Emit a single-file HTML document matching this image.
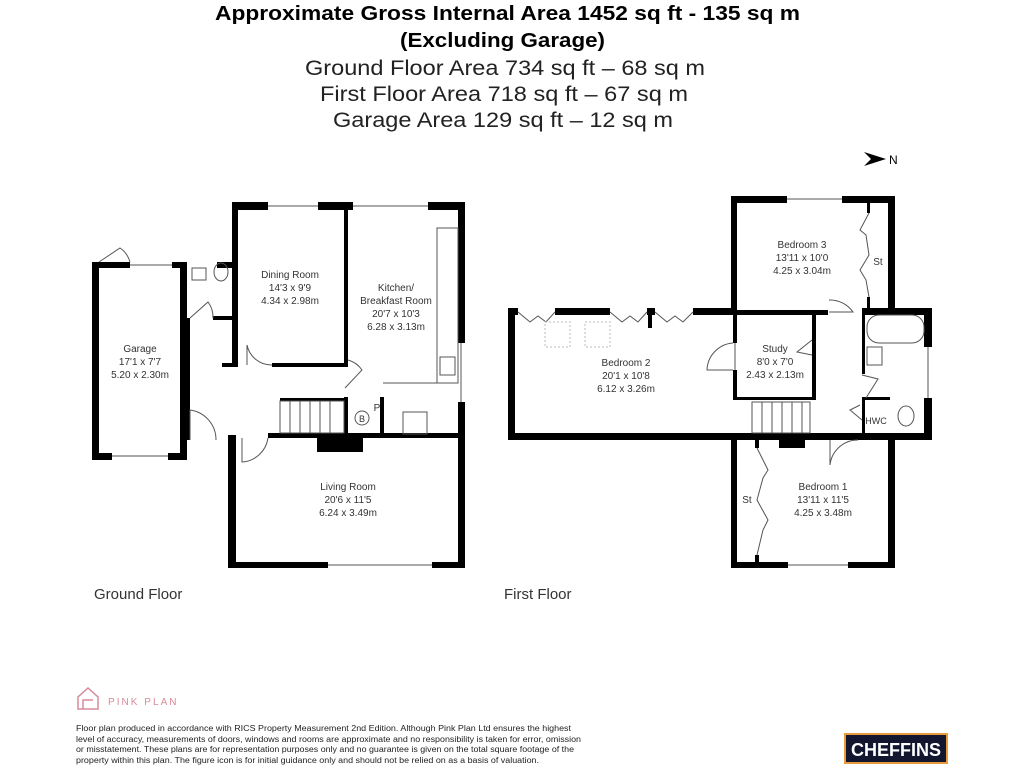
<!DOCTYPE html>
<html><head><meta charset="utf-8"><style>
body{margin:0;width:1024px;height:768px;background:#fff;overflow:hidden;font-family:"Liberation Sans",sans-serif;}
svg{position:absolute;left:0;top:0}
</style></head><body>
<svg width="1024" height="768" viewBox="0 0 1024 768" font-family="Liberation Sans, sans-serif">
<g>
<text x="215" y="20" font-size="20" font-weight="bold" textLength="585" lengthAdjust="spacingAndGlyphs">Approximate Gross Internal Area 1452 sq ft - 135 sq m</text>
<text x="400" y="47" font-size="20" font-weight="bold" textLength="205" lengthAdjust="spacingAndGlyphs">(Excluding Garage)</text>
<text x="305" y="75" font-size="21" fill="#222" textLength="400" lengthAdjust="spacingAndGlyphs">Ground Floor Area 734 sq ft – 68 sq m</text>
<text x="320" y="101" font-size="21" fill="#222" textLength="368" lengthAdjust="spacingAndGlyphs">First Floor Area 718 sq ft – 67 sq m</text>
<text x="333" y="127" font-size="21" fill="#222" textLength="340" lengthAdjust="spacingAndGlyphs">Garage Area 129 sq ft – 12 sq m</text>
</g>
<polygon points="864,152 886,159 864,166 871,159" fill="#000"/>
<text x="889" y="164" font-size="12">N</text>

<g fill="#000">
<rect x="92" y="262" width="7" height="198"/>
<rect x="92" y="262" width="38" height="6"/><rect x="172" y="262" width="15" height="6"/>
<rect x="92" y="453" width="20" height="7"/><rect x="168" y="453" width="19" height="7"/>
<rect x="180" y="262" width="7" height="198"/>
<rect x="217" y="262" width="16" height="6"/>
<rect x="183" y="318" width="7" height="122"/>
<rect x="213" y="316" width="24" height="4"/>
<rect x="232" y="202" width="6" height="165"/>
<rect x="232" y="202" width="36" height="8"/><rect x="318" y="202" width="35" height="8"/><rect x="428" y="202" width="37" height="8"/>
<rect x="344" y="210" width="4" height="155"/>
<rect x="272" y="363" width="76" height="4"/><rect x="222" y="363" width="15" height="4"/>
<rect x="458" y="202" width="7" height="141"/><rect x="458" y="402" width="7" height="166"/>
<rect x="228" y="435" width="8" height="133"/>
<rect x="228" y="562" width="100" height="6"/><rect x="432" y="562" width="33" height="6"/>
<rect x="268" y="433" width="197" height="5"/>
<rect x="317" y="438" width="46" height="14"/>
<rect x="344" y="397" width="4" height="38"/><rect x="380" y="397" width="4" height="38"/>
<rect x="280" y="398" width="67" height="3"/>

<rect x="731" y="196" width="6" height="116"/>
<rect x="731" y="196" width="56" height="7"/><rect x="842" y="196" width="53" height="7"/>
<rect x="888" y="196" width="7" height="112"/>
<rect x="862" y="308" width="70" height="7"/>
<rect x="924" y="308" width="8" height="39"/><rect x="924" y="398" width="8" height="42"/>
<rect x="508" y="308" width="10" height="7"/><rect x="555" y="308" width="55" height="7"/><rect x="647" y="308" width="8" height="7"/><rect x="693" y="308" width="40" height="7"/>
<rect x="648" y="308" width="4" height="20"/>
<rect x="508" y="308" width="7" height="132"/>
<rect x="508" y="433" width="424" height="7"/>
<rect x="731" y="437" width="6" height="131"/>
<rect x="731" y="562" width="57" height="6"/><rect x="848" y="562" width="47" height="6"/>
<rect x="888" y="437" width="7" height="131"/>
<rect x="733" y="310" width="95" height="5"/>
<rect x="733" y="315" width="4" height="28"/><rect x="733" y="370" width="4" height="30"/>
<rect x="812" y="315" width="4" height="85"/>
<rect x="733" y="397" width="83" height="3"/>
<rect x="862" y="312" width="3" height="62"/><rect x="862" y="397" width="3" height="40"/>
<rect x="862" y="397" width="28" height="3"/>
<rect x="779" y="438" width="26" height="10"/>
<rect x="755" y="437" width="4" height="11"/><rect x="755" y="555" width="4" height="10"/>
<rect x="867" y="203" width="3" height="10"/><rect x="867" y="297" width="3" height="12"/>
</g>
<g fill="none" stroke="#555" stroke-width="1">
<line x1="130" y1="265" x2="172" y2="265"/><line x1="112" y1="456" x2="168" y2="456"/>
<line x1="268" y1="206" x2="318" y2="206"/><line x1="353" y1="206" x2="428" y2="206"/>
<line x1="328" y1="565" x2="432" y2="565"/>
<line x1="461" y1="343" x2="461" y2="402"/>
<rect x="437" y="228" width="21" height="155"/>
<polyline points="383,383 437,383 437,228"/>
<line x1="787" y1="199" x2="842" y2="199"/><line x1="788" y1="565" x2="848" y2="565"/>
<line x1="928" y1="347" x2="928" y2="398"/><line x1="735" y1="343" x2="735" y2="370"/>
<path d="M99 262 L120 248 A25 25 0 0 1 130 262"/>
<path d="M190 318 L208 302 A25 25 0 0 1 213 318"/>
<path d="M247 365 L247 345 A25 25 0 0 0 272 365"/>
<path d="M190 440 L190 410 A30 30 0 0 1 216 440"/>
<path d="M242 438 L242 462 A28 28 0 0 0 268 438"/>
<path d="M345 388 L362 370 A25 25 0 0 0 348 360"/>
<path d="M733 370 L707 370 A28 28 0 0 1 733 343"/>
<path d="M830 440 L830 465 A28 28 0 0 1 858 440"/>
<path d="M829 312 L853 312 A28 28 0 0 0 829 300"/>
<polyline points="518,312 530,322 538,316 546,322 555,312"/>
<polyline points="610,312 622,322 630,316 638,322 647,312"/>
<polyline points="655,312 667,322 675,316 683,322 693,312"/>
<polyline points="869,213 860,230 866,235 869,255 860,270 866,280 869,297"/>
<polyline points="757,448 768,470 763,478 757,500 768,520 763,530 757,555"/>
<polyline points="812,340 797,352 812,355"/>
<polyline points="862,375 878,379 866,398"/>
<polyline points="862,420 850,410 860,405"/>
<rect x="280" y="401" width="64" height="32"/>
<line x1="290" y1="401" x2="290" y2="433"/><line x1="300" y1="401" x2="300" y2="433"/><line x1="310" y1="401" x2="310" y2="433"/><line x1="320" y1="401" x2="320" y2="433"/><line x1="330" y1="401" x2="330" y2="433"/>
<rect x="752" y="402" width="58" height="31"/>
<line x1="762" y1="402" x2="762" y2="433"/><line x1="772" y1="402" x2="772" y2="433"/><line x1="782" y1="402" x2="782" y2="433"/><line x1="792" y1="402" x2="792" y2="433"/><line x1="802" y1="402" x2="802" y2="433"/>
<rect x="545" y="322" width="25" height="25" stroke="#bbb" stroke-dasharray="2,2"/>
<rect x="585" y="322" width="25" height="25" stroke="#bbb" stroke-dasharray="2,2"/>
<rect x="867" y="315" width="57" height="28" rx="12"/>
<rect x="867" y="347" width="15" height="18"/>
<ellipse cx="906" cy="416" rx="8" ry="10"/>
<ellipse cx="221" cy="272" rx="7" ry="9"/>
<rect x="192" y="268" width="14" height="12"/>
<rect x="440" y="357" width="15" height="18"/>
<circle cx="362" cy="418" r="7"/>
<rect x="403" y="412" width="24" height="22"/>
</g>
<g font-size="10" text-anchor="middle" fill="#333">
<text x="140" y="352">Garage</text><text x="140" y="365">17'1 x 7'7</text><text x="140" y="378">5.20 x 2.30m</text>
<text x="290" y="278">Dining Room</text><text x="290" y="291">14'3 x 9'9</text><text x="290" y="304">4.34 x 2.98m</text>
<text x="396" y="291">Kitchen/</text><text x="396" y="304">Breakfast Room</text><text x="396" y="317">20'7 x 10'3</text><text x="396" y="330">6.28 x 3.13m</text>
<text x="348" y="490">Living Room</text><text x="348" y="503">20'6 x 11'5</text><text x="348" y="516">6.24 x 3.49m</text>
<text x="362" y="422" font-size="9">B</text><text x="377" y="411">P</text>
<text x="802" y="248">Bedroom 3</text><text x="802" y="261">13'11 x 10'0</text><text x="802" y="274">4.25 x 3.04m</text>
<text x="878" y="265">St</text>
<text x="626" y="366">Bedroom 2</text><text x="626" y="379">20'1 x 10'8</text><text x="626" y="392">6.12 x 3.26m</text>
<text x="775" y="352">Study</text><text x="775" y="365">8'0 x 7'0</text><text x="775" y="378">2.43 x 2.13m</text>
<text x="876" y="424" font-size="9">HWC</text>
<text x="823" y="490">Bedroom 1</text><text x="823" y="503">13'11 x 11'5</text><text x="823" y="516">4.25 x 3.48m</text>
<text x="747" y="503">St</text>
</g>
<text x="94" y="599" font-size="15" fill="#333">Ground Floor</text>
<text x="504" y="599" font-size="15" fill="#333">First Floor</text>
<path d="M78 709 L78 697 L88 688 L98 697 L98 709 Z M83 709 L83 700 L93 700" fill="none" stroke="#d98a9a" stroke-width="1.5"/>
<text x="108" y="705" font-size="10" fill="#d98a9a" letter-spacing="1.5" textLength="70">PINK PLAN</text>
<g font-size="8" fill="#222">
<text x="76" y="731" textLength="495" lengthAdjust="spacingAndGlyphs">Floor plan produced in accordance with RICS Property Measurement 2nd Edition. Although Pink Plan Ltd ensures the highest</text>
<text x="76" y="742" textLength="505" lengthAdjust="spacingAndGlyphs">level of accuracy, measurements of doors, windows and rooms are approximate and no responsibility is taken for error, omission</text>
<text x="76" y="752" textLength="498" lengthAdjust="spacingAndGlyphs">or misstatement. These plans are for representation purposes only and no guarantee is given on the total square footage of the</text>
<text x="76" y="763" textLength="463" lengthAdjust="spacingAndGlyphs">property within this plan. The figure icon is for initial guidance only and should not be relied on as a basis of valuation.</text>
</g>
<rect x="845" y="734" width="102" height="29" fill="#12162e" stroke="#e89a3c" stroke-width="2"/>
<text x="896" y="756" font-size="18" font-weight="bold" fill="#fff" text-anchor="middle" textLength="90" lengthAdjust="spacingAndGlyphs">CHEFFINS</text>
</svg>
</body></html>
